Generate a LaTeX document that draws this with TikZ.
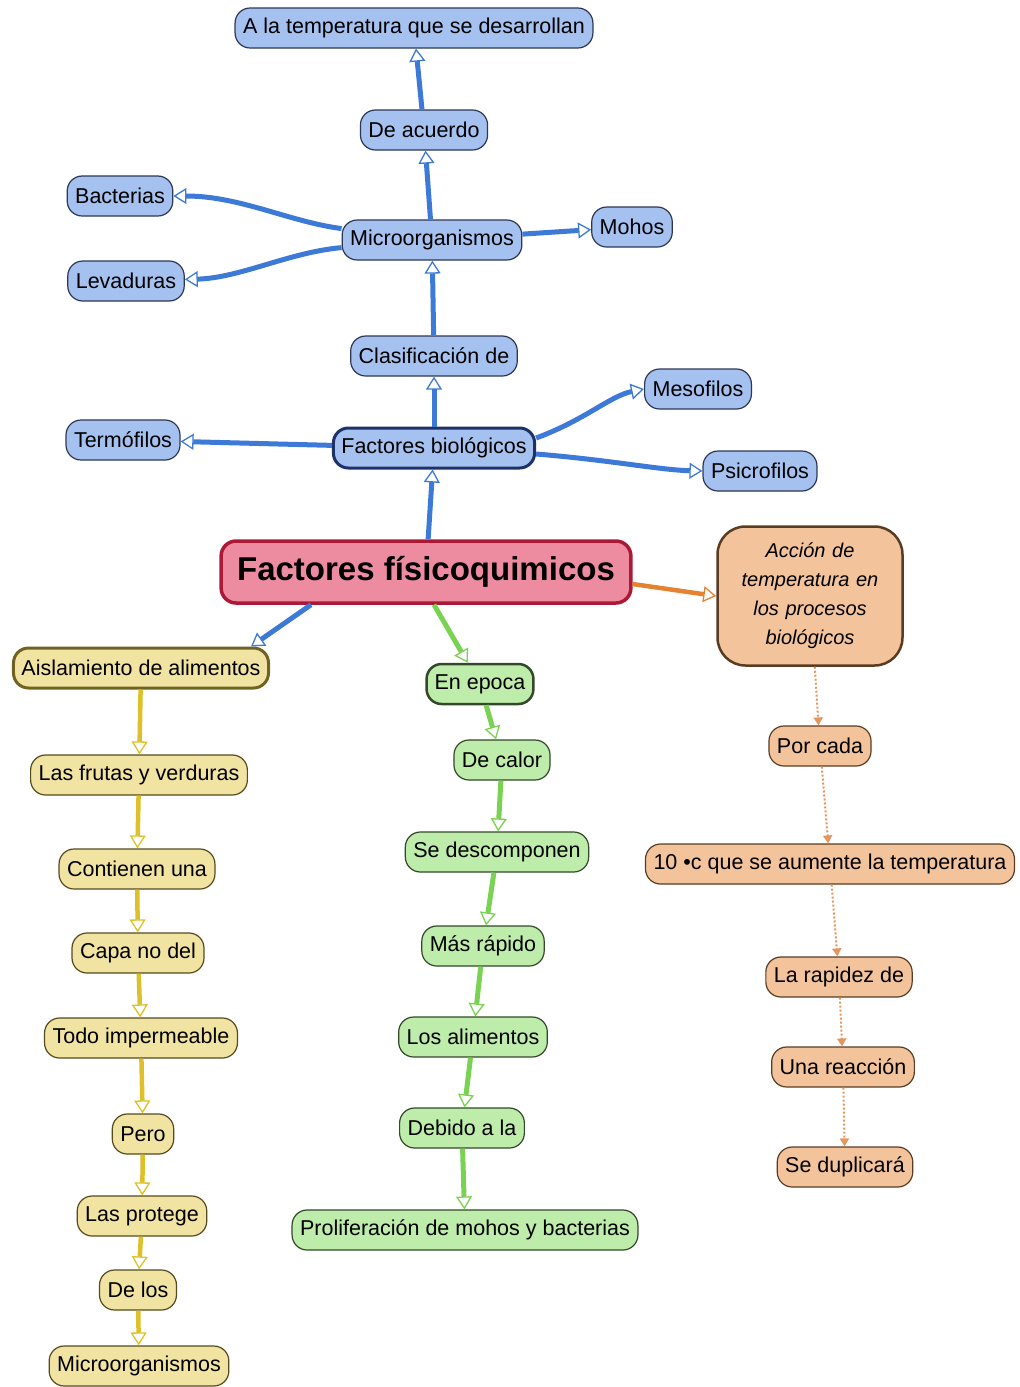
\documentclass[tikz,border=0pt]{standalone}
\usepackage{fontspec}
\setmainfont{Liberation Sans}
\usetikzlibrary{arrows.meta}
\definecolor{cBlueFill}{RGB}{165,193,240}
\definecolor{cBlueEdge}{RGB}{45,55,85}
\definecolor{cBlueLine}{RGB}{61,122,216}
\definecolor{cNavy}{RGB}{30,50,105}
\definecolor{cYellowFill}{RGB}{241,227,162}
\definecolor{cYellowEdge}{RGB}{85,75,30}
\definecolor{cYellowLine}{RGB}{222,192,40}
\definecolor{cGreenFill}{RGB}{190,236,170}
\definecolor{cGreenEdge}{RGB}{50,72,40}
\definecolor{cGreenLine}{RGB}{122,210,82}
\definecolor{cOrangeFill}{RGB}{243,196,156}
\definecolor{cOrangeEdge}{RGB}{90,60,35}
\definecolor{cOrangeLine}{RGB}{228,130,48}
\definecolor{cOrangeDot}{RGB}{228,150,95}
\definecolor{cPinkFill}{RGB}{237,140,160}
\definecolor{cPinkEdge}{RGB}{172,25,55}
\begin{document}
\begin{tikzpicture}[x=1pt, y=-1pt,
  every node/.style={draw, rounded corners=15pt, minimum height=40pt, inner xsep=8pt, line width=1.2pt, font=\fontsize{21.5}{25}\selectfont},
  bluebox/.style={fill=cBlueFill, draw=cBlueEdge},
  yellowbox/.style={fill=cYellowFill, draw=cYellowEdge},
  greenbox/.style={fill=cGreenFill, draw=cGreenEdge},
  orangebox/.style={fill=cOrangeFill, draw=cOrangeEdge},
  bluearrow/.style={draw=cBlueLine, line width=5pt, -{Triangle[fill=white, line width=1.3pt, length=13pt, width=16pt]}},
  yellowarrow/.style={draw=cYellowLine, line width=4.5pt, -{Triangle[fill=white, line width=1.3pt, length=13pt, width=16pt]}},
  greenarrow/.style={draw=cGreenLine, line width=5pt, -{Triangle[fill=white, line width=1.3pt, length=13pt, width=16pt]}},
  orangearrow/.style={draw=cOrangeLine, line width=4.5pt, -{Triangle[fill=white, line width=1.3pt, length=13pt, width=16pt]}},
  dotarrow/.style={draw=cOrangeDot, line width=2pt, dotted, -{Triangle[length=8pt, width=9pt]}}]
  \useasboundingbox (0,0) rectangle (1020,1387);

  % Central concept
  \node[fill=cPinkFill, draw=cPinkEdge, line width=3.5pt, minimum height=62pt, inner xsep=16pt, font=\fontsize{33}{37}\selectfont\bfseries] (main) at (426,572) {Factores físicoquimicos};

  % Blue branch
  \node[bluebox, draw=cNavy, line width=3pt] (factbio) at (434,448) {Factores biológicos};
  \node[bluebox] (clasif) at (434,356) {Clasificación de};
  \node[bluebox] (micro) at (432,240) {Microorganismos};
  \node[bluebox] (acuerdo) at (424,130) {De acuerdo};
  \node[bluebox] (temp) at (414,28) {A la temperatura que se desarrollan};
  \node[bluebox] (bacterias) at (120,196) {Bacterias};
  \node[bluebox] (levaduras) at (126,281) {Levaduras};
  \node[bluebox] (mohos) at (632,227) {Mohos};
  \node[bluebox] (termofilos) at (123,440) {Termófilos};
  \node[bluebox] (mesofilos) at (698,389) {Mesofilos};
  \node[bluebox] (psicrofilos) at (760,471) {Psicrofilos};

  % Yellow branch
  \node[yellowbox, draw=cYellowEdge!80!cYellowLine, line width=3pt] (aislam) at (141,668) {Aislamiento de alimentos};
  \node[yellowbox] (frutas) at (139,775) {Las frutas y verduras};
  \node[yellowbox] (contienen) at (137,869) {Contienen una};
  \node[yellowbox] (capa) at (138,953) {Capa no del};
  \node[yellowbox] (todo) at (141,1038) {Todo impermeable};
  \node[yellowbox] (pero) at (143,1134) {Pero};
  \node[yellowbox] (protege) at (142,1216) {Las protege};
  \node[yellowbox] (delos) at (138,1290) {De los};
  \node[yellowbox] (microb) at (139,1366) {Microorganismos};

  % Green branch
  \node[greenbox, line width=2.5pt] (epoca) at (480,684) {En epoca};
  \node[greenbox] (calor) at (502,760) {De calor};
  \node[greenbox] (descomp) at (497,852) {Se descomponen};
  \node[greenbox] (rapido) at (483,946) {Más rápido};
  \node[greenbox] (alimentos) at (473,1037) {Los alimentos};
  \node[greenbox] (debido) at (462,1128) {Debido a la};
  \node[greenbox] (prolif) at (465,1230) {Proliferación de mohos y bacterias};

  % Orange branch
  \node[orangebox, line width=2.5pt, rounded corners=28pt, minimum width=185pt, minimum height=139pt, text width=160pt, align=center, font=\fontsize{20}{29}\selectfont\itshape] (accion) at (810,596) {Acción de\\temperatura en\\los procesos\\biológicos};
  \node[orangebox] (porcada) at (820,746) {Por cada};
  \node[orangebox] (diez) at (830,864) {10 •c que se aumente la temperatura};
  \node[orangebox] (rapidez) at (839,977) {La rapidez de};
  \node[orangebox] (reaccion) at (843,1067) {Una reacción};
  \node[orangebox] (duplica) at (845,1167) {Se duplicará};

  % Blue links
  \draw[bluearrow] (main) -- (factbio);
  \draw[bluearrow] (factbio) -- (clasif);
  \draw[bluearrow] (clasif) -- (micro);
  \draw[bluearrow] (micro) -- (acuerdo);
  \draw[bluearrow] (acuerdo) -- (temp);
  \draw[bluearrow] (micro) .. controls (290,222) and (240,196) .. (bacterias);
  \draw[bluearrow] (micro) .. controls (290,252) and (240,278) .. (levaduras);
  \draw[bluearrow] (micro) -- (mohos);
  \draw[bluearrow] (factbio) -- (termofilos);
  \draw[bluearrow] ([yshift=10pt]factbio.east) .. controls (585,420) and (610,396) .. (mesofilos.west);
  \draw[bluearrow] ([yshift=-6pt]factbio.east) .. controls (610,460) and (660,470) .. (psicrofilos.west);
  \draw[bluearrow] ([xshift=-115pt]main.south) -- ([xshift=110pt]aislam.north);

  % Yellow links
  \draw[yellowarrow] (aislam) -- (frutas);
  \draw[yellowarrow] (frutas) -- (contienen);
  \draw[yellowarrow] (contienen) -- (capa);
  \draw[yellowarrow] (capa) -- (todo);
  \draw[yellowarrow] (todo) -- (pero);
  \draw[yellowarrow] (pero) -- (protege);
  \draw[yellowarrow] (protege) -- (delos);
  \draw[yellowarrow] (delos) -- (microb);

  % Green links
  \draw[greenarrow] ([xshift=8pt]main.south) -- (epoca);
  \draw[greenarrow] (epoca) -- (calor);
  \draw[greenarrow] (calor) -- (descomp);
  \draw[greenarrow] (descomp) -- (rapido);
  \draw[greenarrow] (rapido) -- (alimentos);
  \draw[greenarrow] (alimentos) -- (debido);
  \draw[greenarrow] (debido) -- (prolif);

  % Orange links
  \draw[orangearrow] ([yshift=-12pt]main.east) -- (accion.west);
  \draw[dotarrow] (accion) -- (porcada);
  \draw[dotarrow] (porcada) -- (diez);
  \draw[dotarrow] (diez) -- (rapidez);
  \draw[dotarrow] (rapidez) -- (reaccion);
  \draw[dotarrow] (reaccion) -- (duplica);
\end{tikzpicture}
\end{document}
